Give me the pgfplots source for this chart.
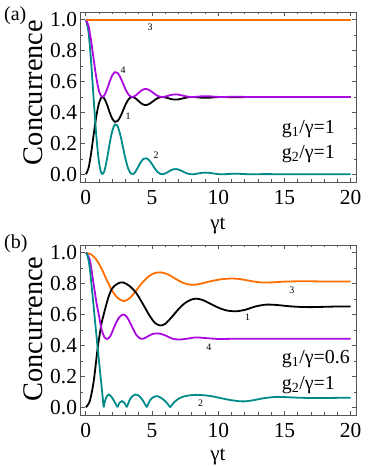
\documentclass[border=0pt]{standalone}
\usepackage{fontspec}
\setmainfont{Liberation Serif}
\usepackage{pgfplots}
\usepackage{pgfplotstable}
\pgfplotsset{compat=1.18}
\definecolor{corange}{RGB}{255,110,0}
\definecolor{cpurple}{RGB}{170,10,225}
\definecolor{cteal}{RGB}{0,138,138}
\definecolor{cframe}{RGB}{85,85,85}

\pgfplotstableread{
t c1 c2 c4
0 0 1 1
0.2 0.0377 0.9247 0.9624
0.4 0.1353 0.7295 0.8648
0.6 0.2605 0.4791 0.7396
0.8 0.3783 0.2435 0.6218
1.0 0.4619 0.0763 0.5382
1.2 0.4983 0.0034 0.5017
1.4 0.4899 0.0203 0.5102
1.6 0.4508 0.0985 0.5493
1.8 0.4010 0.1981 0.5991
2.0 0.3596 0.2808 0.6404
2.2 0.3393 0.3214 0.6607
2.4 0.3446 0.3108 0.6554
2.6 0.3717 0.2567 0.6284
2.8 0.4107 0.1787 0.5894
3.0 0.4506 0.0988 0.5494
3.2 0.4815 0.0371 0.5186
3.4 0.4977 0.0046 0.5023
3.6 0.4988 0.0025 0.5013
3.8 0.4884 0.0233 0.5117
4.0 0.4726 0.0549 0.5275
4.2 0.4578 0.0844 0.5422
4.4 0.4491 0.1019 0.5510
4.6 0.4485 0.1031 0.5516
4.8 0.4554 0.0892 0.5446
5.0 0.4674 0.0653 0.5327
5.2 0.4806 0.0389 0.5195
5.4 0.4916 0.0168 0.5084
5.6 0.4983 0.0034 0.5017
5.8 0.5000 0.0001 0.5001
6.0 0.4975 0.0051 0.5026
6.2 0.4926 0.0148 0.5074
6.4 0.4876 0.0249 0.5125
6.6 0.4841 0.0319 0.5160
6.8 0.4831 0.0338 0.5169
7.0 0.4847 0.0306 0.5153
7.2 0.4883 0.0235 0.5118
7.4 0.4925 0.0150 0.5075
7.6 0.4964 0.0072 0.5036
7.8 0.4990 0.0020 0.5010
8.0 0.5000 0.0000 0.5000
8.2 0.4995 0.0010 0.5005
8.4 0.4981 0.0038 0.5019
8.8 0.4951 0.0098 0.5049
9.2 0.4949 0.0103 0.5052
9.6 0.4972 0.0056 0.5028
10.0 0.4995 0.0010 0.5005
10.4 0.4999 0.0002 0.5001
10.8 0.4990 0.0020 0.5010
11.2 0.4983 0.0035 0.5018
11.6 0.4986 0.0029 0.5015
12.0 0.4994 0.0012 0.5006
12.4 0.5000 0.0001 0.5001
13.0 0.4997 0.0006 0.5003
13.6 0.4995 0.0011 0.5006
14.2 0.4997 0.0006 0.5003
15.0 0.5000 0.0001 0.5000
16.0 0.4999 0.0003 0.5002
17.0 0.5000 0.0001 0.5000
18.0 0.5000 0.0001 0.5000
20.0 0.5000 0.0000 0.5000
}\dataA

\pgfplotstableread{
t c
0 1.0
0.4 0.989
0.8 0.955
1.2 0.895
1.6 0.82
2.0 0.752
2.4 0.708
2.86 0.687
3.3 0.705
3.8 0.755
4.3 0.81
4.8 0.85
5.2 0.868
5.65 0.873
6.2 0.86
6.8 0.83
7.4 0.803
8.0 0.792
8.6 0.798
9.4 0.815
10.2 0.828
11.0 0.833
11.6 0.830
12.4 0.818
13.2 0.808
14.0 0.808
15.0 0.813
16.0 0.815
17.0 0.815
18.0 0.814
20.0 0.814
}\orangeB

\pgfplotstableread{
t c
0 0
0.3 0.04
0.6 0.17
0.9 0.386
1.2 0.55
1.35 0.60
1.7 0.71
2.0 0.77
2.4 0.80
2.8 0.808
3.3 0.785
3.8 0.74
4.3 0.67
4.8 0.595
5.2 0.548
5.6 0.529
6.0 0.54
6.5 0.585
7.0 0.635
7.5 0.675
8.0 0.698
8.3 0.703
8.8 0.695
9.4 0.67
10.0 0.645
10.6 0.627
11.3 0.621
12.0 0.63
12.8 0.652
13.6 0.664
14.4 0.662
15.2 0.655
16.0 0.650
17.0 0.648
18.0 0.650
19.0 0.652
20.0 0.652
}\blackB

\pgfplotstableread{
t c
0 1.0
0.3 0.955
0.55 0.82
0.8 0.68
1.0 0.59
1.2 0.50
1.4 0.455
1.6 0.442
1.85 0.46
2.2 0.53
2.5 0.58
2.82 0.60
3.1 0.585
3.5 0.52
3.8 0.47
4.15 0.443
4.5 0.45
5.0 0.473
5.5 0.478
6.0 0.465
6.5 0.445
7.0 0.438
7.6 0.443
8.3 0.452
9.0 0.448
10.0 0.442
11.0 0.443
12.0 0.444
14.0 0.443
16.0 0.443
20.0 0.443
}\purpleB

\pgfplotsset{myaxis/.style={
  scale only axis, width=275.5bp, height=170bp,
  xmin=-0.4, xmax=20.4, ymin=-0.05, ymax=1.05,
  xtick={0,5,10,15,20}, ytick={0,0.2,0.4,0.6,0.8,1.0},
  minor xtick={1,2,3,4,6,7,8,9,11,12,13,14,16,17,18,19},
  minor ytick={0.1,0.3,0.5,0.7,0.9},
  yticklabel style={/pgf/number format/fixed, /pgf/number format/fixed zerofill, /pgf/number format/precision=1},
  xticklabel style={inner sep=0.5bp, yshift=-7.5bp},
  /pgf/number format/assume math mode=true,
  tick label style={font=\fontsize{21.5}{21.5}\selectfont, text=black},
  axis line style={cframe, line width=0.8bp},
  every tick/.style={cframe, line width=0.6bp},
  major tick length=4bp, minor tick length=2.5bp,
  tick align=inside,
  every axis plot/.append style={line width=1.8bp},
}}

\begin{document}
\begin{tikzpicture}
\path[use as bounding box] (0,0) rectangle (381bp,466bp);
% panel (a)
\begin{axis}[myaxis, at={(80.5bp,284bp)}, anchor=south west]
\addplot[black, smooth] table[x=t, y=c1] {\dataA};
\addplot[cteal, smooth] table[x=t, y=c2] {\dataA};
\addplot[cpurple, smooth] table[x=t, y=c4] {\dataA};
\addplot[corange] coordinates {(0,1) (20,1)};
\node[font=\fontsize{10}{10}\selectfont] at (axis cs:4.85,0.953) {3};
\node[font=\fontsize{10}{10}\selectfont] at (axis cs:2.81,0.675) {4};
\node[font=\fontsize{10}{10}\selectfont] at (axis cs:3.19,0.377) {1};
\node[font=\fontsize{10}{10}\selectfont] at (axis cs:5.30,0.125) {2};
\end{axis}
% panel (b)
\begin{axis}[myaxis, at={(80.5bp,51bp)}, anchor=south west]
\addplot[corange, smooth] table[x=t, y=c] {\orangeB};
\addplot[black, smooth] table[x=t, y=c] {\blackB};
\addplot[cpurple, smooth] table[x=t, y=c] {\purpleB};
\addplot[cteal, smooth] coordinates {(0,1) (0.1,0.99) (0.2,0.955) (0.3,0.9) (0.4,0.82) (0.65,0.6) (0.9,0.38) (1.15,0.17) (1.35,0)};
\addplot[cteal, smooth] coordinates {(1.35,0) (1.5,0.055) (1.73,0.083) (2.0,0.06) (2.2,0.03) (2.4,0)};
\addplot[cteal, smooth] coordinates {(2.4,0) (2.55,0.03) (2.73,0.04) (2.9,0.03) (3.1,0)};
\addplot[cteal, smooth] coordinates {(3.1,0) (3.3,0.045) (3.5,0.07) (3.74,0.082) (4.0,0.075) (4.3,0.045) (4.6,0)};
\addplot[cteal, smooth] coordinates {(4.6,0) (4.85,0.045) (5.1,0.065) (5.4,0.072) (5.7,0.06) (6.05,0.035) (6.37,0)};
\addplot[cteal, smooth] coordinates {(6.37,0) (6.7,0.035) (7.1,0.06) (7.6,0.074) (8.2,0.08) (8.9,0.078) (9.6,0.07) (10.3,0.057) (10.9,0.047) (11.5,0.04) (12.0,0.038) (12.6,0.045) (13.4,0.058) (14.2,0.066) (15,0.066) (16,0.062) (17,0.06) (18,0.06) (19,0.061) (20,0.061)};
\node[font=\fontsize{10}{10}\selectfont] at (axis cs:15.55,0.759) {3};
\node[font=\fontsize{10}{10}\selectfont] at (axis cs:12.22,0.583) {1};
\node[font=\fontsize{10}{10}\selectfont] at (axis cs:9.30,0.388) {4};
\node[font=\fontsize{10}{10}\selectfont] at (axis cs:8.67,0.026) {2};
\end{axis}
% labels
\node[anchor=base west, font=\fontsize{20}{20}\selectfont, inner sep=0pt] at (4bp,445.5bp) {(a)};
\node[anchor=base west, font=\fontsize{20}{20}\selectfont, inner sep=0pt] at (4bp,217.7bp) {(b)};
\node[rotate=90, anchor=base, font=\fontsize{28.5}{28.5}\selectfont, inner sep=0pt] at (42.7bp,373.5bp) {Concurrence};
\node[rotate=90, anchor=base, font=\fontsize{28.5}{28.5}\selectfont, inner sep=0pt] at (42.7bp,137bp) {Concurrence};
\node[anchor=base, font=\fontsize{21}{21}\selectfont, inner sep=0pt] at (218bp,236.5bp) {γt};
\node[anchor=base, font=\fontsize{21}{21}\selectfont, inner sep=0pt] at (218bp,5.5bp) {γt};
\node[anchor=base west, font=\fontsize{20}{20}\selectfont, inner sep=0pt] at (281.7bp,332.7bp) {g\textsubscript{1}/γ=1};
\node[anchor=base west, font=\fontsize{20}{20}\selectfont, inner sep=0pt] at (281.7bp,307.7bp) {g\textsubscript{2}/γ=1};
\node[anchor=base west, font=\fontsize{20}{20}\selectfont, inner sep=0pt] at (281.7bp,102.7bp) {g\textsubscript{1}/γ=0.6};
\node[anchor=base west, font=\fontsize{20}{20}\selectfont, inner sep=0pt] at (281.7bp,76.7bp) {g\textsubscript{2}/γ=1};
\end{tikzpicture}
\end{document}
